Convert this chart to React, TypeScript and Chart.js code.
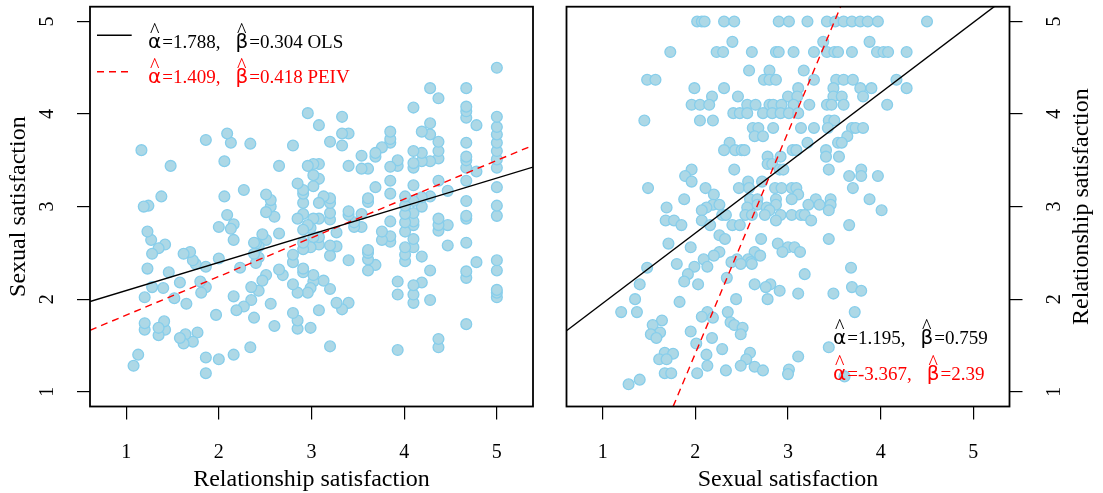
import React, { useEffect, useRef } from "react";
import { Chart, registerables } from "chart.js";

Chart.register(...registerables);

const SERIF = '"Liberation Serif", "Times New Roman", serif';
const GREEK = '"DejaVu Sans", "Noto Sans", sans-serif';

// Relationship satisfaction (x of left panel) and sexual satisfaction (y of left panel), paired.
const relSat = [
  5, 5, 5, 5, 5, 5, 5, 5, 5, 5, 5, 5, 5, 5, 5, 5,
  4.78, 4.78, 4.78,
  4.67, 4.67, 4.67, 4.67, 4.67, 4.67, 4.67, 4.67, 4.67, 4.67, 4.67, 4.67, 4.67, 4.67, 4.67, 4.67,
  4.47, 4.47, 4.47,
  4.37, 4.37, 4.37, 4.37, 4.37, 4.37, 4.37, 4.37, 4.37, 4.37,
  4.28, 4.28, 4.28, 4.28, 4.28, 4.28, 4.28,
  4.19, 4.19, 4.19, 4.19, 4.19, 4.19, 4.19,
  4.1, 4.1, 4.1, 4.1, 4.1, 4.1, 4.1, 4.1, 4.1, 4.1, 4.1, 4.1, 4.1, 4.1,
  4.01, 4.01, 4.01, 4.01, 4.01, 4.01, 4.01, 4.01,
  3.93, 3.93, 3.93, 3.93, 3.93,
  3.85, 3.85, 3.85, 3.85, 3.85, 3.85, 3.85, 3.85, 3.85,
  3.76, 3.76, 3.76,
  3.69, 3.69, 3.69, 3.69,
  3.61, 3.61, 3.61, 3.61, 3.61, 3.61, 3.61,
  3.54, 3.54, 3.54, 3.54,
  3.46, 3.46,
  3.4, 3.4, 3.4, 3.4, 3.4, 3.4,
  3.33, 3.33, 3.33, 3.33,
  3.27, 3.27, 3.27,
  3.2, 3.2, 3.2, 3.2, 3.2, 3.2, 3.2, 3.2, 3.2,
  3.13, 3.13,
  3.08, 3.08, 3.08, 3.08, 3.08, 3.08, 3.08, 3.08,
  3.02, 3.02, 3.02, 3.02, 3.02, 3.02, 3.02,
  2.99, 2.99, 2.99, 2.99,
  2.96, 2.96, 2.96, 2.96,
  2.91, 2.91, 2.91, 2.91, 2.91, 2.91, 2.91, 2.91, 2.91,
  2.85, 2.85, 2.85, 2.85, 2.85,
  2.8, 2.8, 2.8, 2.8, 2.8,
  2.69,
  2.65, 2.65, 2.65,
  2.6, 2.6,
  2.56, 2.56, 2.56,
  2.51, 2.51, 2.51, 2.51,
  2.47, 2.47,
  2.43, 2.43, 2.43,
  2.4, 2.4,
  2.38, 2.38, 2.38,
  2.35, 2.35,
  2.34, 2.34,
  2.27, 2.27,
  2.23,
  2.19,
  2.16, 2.16, 2.16, 2.16,
  2.13, 2.13,
  2.09, 2.09,
  2.06, 2.06,
  2.0, 2.0, 2.0,
  1.97,
  1.86, 1.86, 1.86, 1.86, 1.86,
  1.81, 1.8, 1.77, 1.75,
  1.72, 1.72,
  1.69, 1.65, 1.64,
  1.62, 1.62,
  1.58, 1.58,
  1.52, 1.48, 1.46,
  1.42, 1.42,
  1.41, 1.4, 1.38,
  1.35, 1.35, 1.35,
  1.28, 1.28,
  1.27, 1.24,
  1.23, 1.23,
  1.2, 1.2, 1.2,
  1.19, 1.165, 1.13, 1.08,
];

const sexSat = [
  2.02, 2.07, 2.1, 2.31, 2.42, 2.9, 3.01, 3.21, 3.42, 3.51, 3.6, 3.69, 3.78, 3.86, 3.97, 4.5,
  2.4, 3.38, 3.88,
  1.73, 2.23, 2.3, 2.61, 2.87, 2.9, 3.06, 3.28, 3.42, 3.5, 3.54, 3.69, 3.96, 4.03, 4.08, 4.28,
  2.58, 2.8, 3.17,
  1.48, 1.57, 2.74, 2.8, 2.87, 3.28, 3.52, 3.6, 3.7, 4.17,
  1.99, 2.31, 3.11, 3.49, 3.78, 3.9, 4.28,
  2.18, 2.46, 3.0, 3.1, 3.49, 3.58, 3.81,
  1.96, 2.05, 2.15, 2.56, 2.65, 2.8, 2.84, 2.93, 3.06, 3.23, 3.42, 3.47, 3.6, 4.07,
  2.41, 2.48, 2.56, 2.73, 2.83, 2.92, 3.01, 3.11,
  1.45, 2.05, 2.19, 3.44, 3.5,
  2.62, 2.68, 2.84, 3.14, 3.28, 3.43, 3.69, 3.73, 3.81,
  2.64, 2.73, 3.64,
  2.37, 3.21, 3.54, 3.58,
  2.31, 2.43, 2.5, 2.53, 3.05, 3.09, 3.41,
  2.78, 2.92, 3.41, 3.55,
  2.78, 2.83,
  1.96, 2.42, 2.91, 2.95, 3.44, 3.79,
  1.89, 3.66, 3.79, 3.97,
  1.96, 2.57, 2.72,
  1.49, 2.11, 2.47, 2.58, 2.86, 2.93, 3.04, 3.09, 3.7,
  2.2, 3.11,
  1.88, 2.59, 2.67, 2.87, 3.04, 3.3, 3.46, 3.88,
  2.19, 2.26, 2.67, 2.87, 3.22, 3.34, 3.46,
  1.69, 2.12, 2.56, 2.77,
  2.07, 2.8, 3.44, 4.01,
  2.29, 2.33, 2.54, 2.61, 2.75, 2.92, 3.04, 3.14, 3.18,
  1.68, 1.77, 2.07, 2.87, 3.25,
  1.85, 2.16, 2.4, 2.48, 3.66,
  2.26,
  2.32, 2.71, 3.44,
  1.71, 2.89,
  1.95, 3.0, 3.07,
  2.26, 2.64, 2.94, 3.13,
  2.2, 2.7,
  2.09, 2.45, 2.57,
  2.39, 2.6,
  1.8, 2.49, 2.61,
  1.99, 2.13,
  1.48, 3.68,
  1.92, 3.18,
  2.34,
  1.88,
  1.4, 2.03, 2.64, 2.81,
  2.76, 3.69,
  2.91, 3.79,
  3.11, 3.49,
  1.35, 2.44, 2.78,
  1.83,
  1.2, 1.37, 2.13, 2.35, 3.72,
  2.07, 2.19, 1.64, 2.38,
  1.54, 2.42,
  2.51, 1.95, 1.62,
  1.52, 2.49,
  1.58, 2.18,
  2.01, 3.44, 2.29,
  1.67, 2.59,
  1.76, 2.12, 3.11,
  1.61, 1.69, 2.55,
  2.13, 2.49,
  2.64, 3.01,
  2.33, 2.73,
  1.67, 1.74, 2.02,
  3.0, 3.61, 1.4, 1.28,
];

const tickValues = [1, 2, 3, 4, 5];
const xRange = [0.61, 5.39];
const yRange = [0.84, 5.16];

// [intercept, slope]
const olsLeft = [1.788, 0.304];
const peivLeft = [1.409, 0.418];
const olsRight = [1.195, 0.759];
const peivRight = [-3.367, 2.39];

const PAGE_W = 1103;
const PAGE_H = 493;
const SPLIT = 551;

type Spec = {
  xs: number[];
  ys: number[];
  ols: number[];
  peiv: number[];
  xTitle: string;
  yTitle: string;
  side: "left" | "right";
  offset: number;
  width: number;
};

function drawEstimates(
  ctx: CanvasRenderingContext2D,
  x: number,
  y: number,
  coef: number[],
  suffix: string,
  color: string
) {
  ctx.save();
  ctx.fillStyle = color;
  ctx.textBaseline = "alphabetic";
  let cx = x;
  const greek = (g: string) => {
    ctx.font = `20px ${GREEK}`;
    ctx.textAlign = "left";
    const w = ctx.measureText(g).width;
    ctx.fillText(g, cx, y);
    ctx.font = `20px ${SERIF}`;
    ctx.textAlign = "center";
    ctx.fillText("^", cx + w / 2, y - 11);
    cx += w + 1;
  };
  const plain = (t: string) => {
    ctx.font = `19px ${SERIF}`;
    ctx.textAlign = "left";
    ctx.fillText(t, cx, y);
    cx += ctx.measureText(t).width;
  };
  greek("α");
  plain("=" + String(coef[0]) + ",");
  cx += 15;
  greek("β");
  plain("=" + String(coef[1]) + suffix);
  ctx.restore();
}

function makeChart(canvas: HTMLCanvasElement, spec: Spec) {
  const lineData = (c: number[]) => xRange.map((x) => ({ x, y: c[0] + c[1] * x }));
  const off = spec.offset;
  const decor = {
    id: "decor",
    afterDraw(chart: any) {
      const ctx: CanvasRenderingContext2D = chart.ctx;
      const ca = chart.chartArea;
      const xs = chart.scales.x;
      const ys = chart.scales.y;
      ctx.save();
      ctx.strokeStyle = "#000";
      ctx.lineWidth = 1.8;
      ctx.strokeRect(ca.left, ca.top, ca.right - ca.left, ca.bottom - ca.top);
      ctx.fillStyle = "#000";
      // x tick labels
      ctx.font = `20px ${SERIF}`;
      ctx.textAlign = "center";
      ctx.textBaseline = "alphabetic";
      for (const v of tickValues) ctx.fillText(String(v), xs.getPixelForValue(v), 458);
      // x title
      ctx.font = `24px ${SERIF}`;
      ctx.fillText(spec.xTitle, xs.getPixelForValue(3), 486);
      // y tick labels (rotated)
      const labelX = spec.side === "left" ? 53 : 1060 - off;
      const titleX = spec.side === "left" ? 25 : 1088 - off;
      ctx.font = `20px ${SERIF}`;
      for (const v of tickValues) {
        ctx.save();
        ctx.translate(labelX, ys.getPixelForValue(v));
        ctx.rotate(-Math.PI / 2);
        ctx.fillText(String(v), 0, 0);
        ctx.restore();
      }
      ctx.save();
      ctx.font = `24px ${SERIF}`;
      ctx.translate(titleX, (ca.top + ca.bottom) / 2);
      ctx.rotate(-Math.PI / 2);
      ctx.fillText(spec.yTitle, 0, 0);
      ctx.restore();

      if (spec.side === "left") {
        ctx.lineWidth = 1.4;
        ctx.strokeStyle = "#000";
        ctx.beginPath();
        ctx.moveTo(97 - off, 35.3);
        ctx.lineTo(131.7 - off, 35.3);
        ctx.stroke();
        ctx.strokeStyle = "#ff0000";
        ctx.setLineDash([7, 5]);
        ctx.beginPath();
        ctx.moveTo(97 - off, 71.7);
        ctx.lineTo(131.7 - off, 71.7);
        ctx.stroke();
        ctx.setLineDash([]);
        drawEstimates(ctx, 148 - off, 48.3, spec.ols, " OLS", "#000");
        drawEstimates(ctx, 148 - off, 83.3, spec.peiv, " PEIV", "#ff0000");
      } else {
        drawEstimates(ctx, 833 - off, 344, spec.ols, "", "#000");
        drawEstimates(ctx, 833 - off, 380, spec.peiv, "", "#ff0000");
      }
      ctx.restore();
    },
  };

  const setTicks = (scale: any) => {
    scale.ticks = tickValues.map((v) => ({ value: v }));
  };
  const grid = {
    display: true,
    drawOnChartArea: false,
    drawTicks: true,
    tickLength: 13,
    color: "#000",
    lineWidth: 1.2,
  };
  const padding =
    spec.side === "left"
      ? { top: 6, right: SPLIT - 533, left: 0, bottom: 0 }
      : { top: 6, right: 0, left: 566.5 - SPLIT, bottom: 0 };

  return new Chart(canvas, {
    type: "scatter",
    data: {
      datasets: [
        {
          type: "line",
          data: lineData(spec.ols),
          borderColor: "#000000",
          borderWidth: 1.4,
          pointRadius: 0,
          fill: false,
          order: 1,
          clip: 0,
        } as any,
        {
          type: "line",
          data: lineData(spec.peiv),
          borderColor: "#ff0000",
          borderDash: [7, 5],
          borderWidth: 1.4,
          pointRadius: 0,
          fill: false,
          order: 1,
          clip: 0,
        } as any,
        {
          type: "scatter",
          data: spec.xs.map((x, i) => ({ x, y: spec.ys[i] })),
          backgroundColor: "#ADD8E6",
          borderColor: "#87CEEB",
          borderWidth: 1.3,
          pointRadius: 5.4,
          order: 2,
        } as any,
      ],
    },
    options: {
      animation: false,
      responsive: false,
      devicePixelRatio: 1,
      events: [],
      layout: { padding },
      plugins: { legend: { display: false }, tooltip: { enabled: false } },
      scales: {
        x: {
          type: "linear",
          position: "bottom",
          min: xRange[0],
          max: xRange[1],
          afterBuildTicks: setTicks,
          afterFit: (s: any) => {
            s.height = PAGE_H - 406.5;
          },
          grid,
          border: { display: false },
          ticks: { display: false },
        },
        y: {
          type: "linear",
          position: spec.side,
          min: yRange[0],
          max: yRange[1],
          afterBuildTicks: setTicks,
          afterFit: (s: any) => {
            s.width = spec.side === "left" ? 90 : spec.width - (1009.5 - SPLIT);
          },
          grid,
          border: { display: false },
          ticks: { display: false },
        },
      },
    } as any,
    plugins: [decor],
  });
}

export default function App() {
  const leftRef = useRef<HTMLCanvasElement>(null);
  const rightRef = useRef<HTMLCanvasElement>(null);
  useEffect(() => {
    const a = makeChart(leftRef.current!, {
      xs: relSat,
      ys: sexSat,
      ols: olsLeft,
      peiv: peivLeft,
      xTitle: "Relationship satisfaction",
      yTitle: "Sexual satisfaction",
      side: "left",
      offset: 0,
      width: SPLIT,
    });
    const b = makeChart(rightRef.current!, {
      xs: sexSat,
      ys: relSat,
      ols: olsRight,
      peiv: peivRight,
      xTitle: "Sexual satisfaction",
      yTitle: "Relationship satisfaction",
      side: "right",
      offset: SPLIT,
      width: PAGE_W - SPLIT,
    });
    return () => {
      a.destroy();
      b.destroy();
    };
  }, []);
  return (
    <div
      style={{
        position: "fixed",
        left: 0,
        top: 0,
        width: PAGE_W,
        height: PAGE_H,
        background: "#ffffff",
      }}
    >
      <canvas
        ref={leftRef}
        width={SPLIT}
        height={PAGE_H}
        style={{ position: "absolute", left: 0, top: 0, width: SPLIT, height: PAGE_H }}
      />
      <canvas
        ref={rightRef}
        width={PAGE_W - SPLIT}
        height={PAGE_H}
        style={{ position: "absolute", left: SPLIT, top: 0, width: PAGE_W - SPLIT, height: PAGE_H }}
      />
    </div>
  );
}
